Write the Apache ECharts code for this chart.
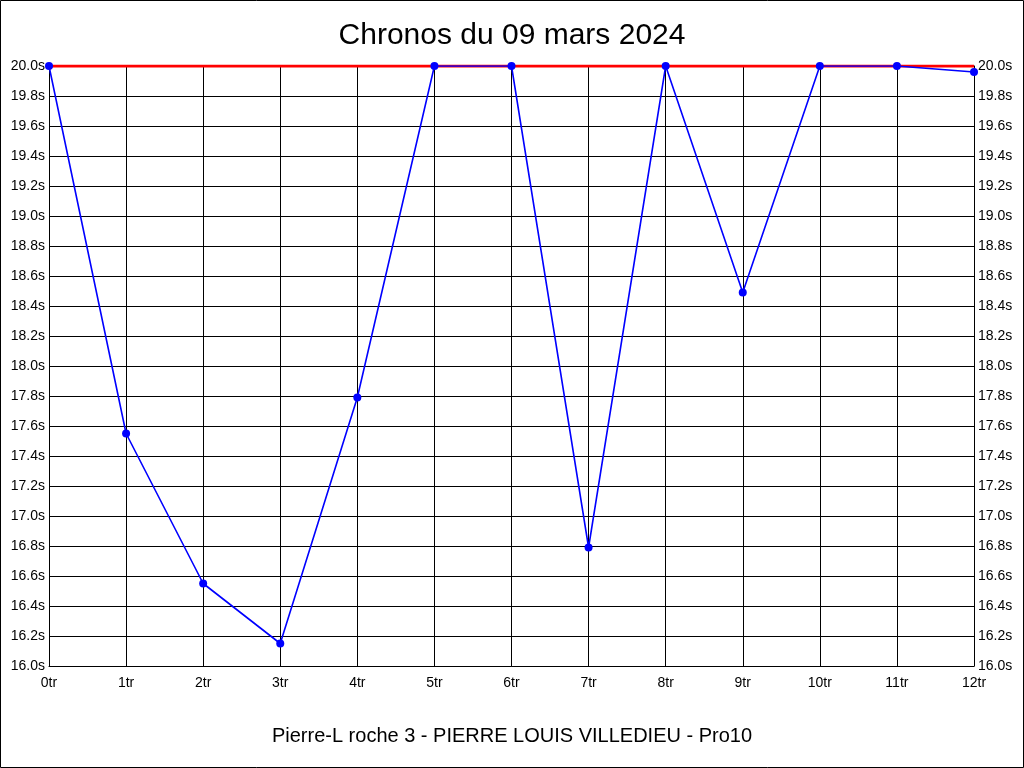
<!DOCTYPE html>
<html><head><meta charset="utf-8">
<script src="https://cdn.jsdelivr.net/npm/echarts@6/dist/echarts.min.js"></script>
<style>html,body{margin:0;padding:0;background:#fff}#c{width:1024px;height:768px}</style>
</head><body><div id="c"></div>
<script>
const laps = [0,1,2,3,4,5,6,7,8,9,10,11,12];
const times = [20.0,17.55,16.55,16.15,17.79,20.0,20.0,16.79,20.0,18.49,20.0,20.0,19.96];
const refLine = [[0,20.0],[12,20.0]];
const titleText = 'Chronos du 09 mars 2024';
const subText = 'Pierre-L roche 3 - PIERRE LOUIS VILLEDIEU - Pro10';
const font = 'Liberation Sans, Arial, sans-serif';
const yAxisBase = {
  type:'value', min:16, max:20, interval:0.2,
  axisLine:{show:true,lineStyle:{color:'#000',width:1}},
  axisTick:{show:false},
  splitLine:{show:true,lineStyle:{color:'#000',width:1}},
  axisLabel:{color:'#000',fontSize:14,fontFamily:font,margin:4,formatter:v=>v.toFixed(1)+'s'}
};
const chart = echarts.init(document.getElementById('c'));
chart.setOption({
  backgroundColor:'#fff',
  animation:false,
  title:[
    {text:titleText,left:'center',top:16,textStyle:{fontSize:30,fontWeight:'normal',color:'#000',fontFamily:font}},
    {text:subText,left:'center',top:721,textStyle:{fontSize:20,fontWeight:'normal',color:'#000',fontFamily:font}}
  ],
  grid:{left:49,right:50,top:66,bottom:102},
  xAxis:{type:'value',min:0,max:12,interval:1,
    axisLine:{show:true,lineStyle:{color:'#000',width:1}},
    axisTick:{show:false},
    splitLine:{show:true,lineStyle:{color:'#000',width:1}},
    axisLabel:{color:'#000',fontSize:14,fontFamily:font,margin:10,formatter:v=>v+'tr'}},
  yAxis:[Object.assign({},yAxisBase,{position:'left'}),Object.assign({},yAxisBase,{position:'right',splitLine:{show:false}})],
  series:[
    {type:'line',data:refLine,showSymbol:false,symbol:'none',lineStyle:{color:'#ff0000',width:3},z:2,silent:true},
    {type:'line',data:laps.map((l,i)=>[l,times[i]]),symbol:'circle',symbolSize:8,
     itemStyle:{color:'#0000ff'},lineStyle:{color:'#0000ff',width:1.6},z:3}
  ],
  graphic:[{type:'rect',shape:{x:0.5,y:0.5,width:1023,height:767},style:{fill:'none',stroke:'#000',lineWidth:1},z:100}]
});
</script></body></html>
